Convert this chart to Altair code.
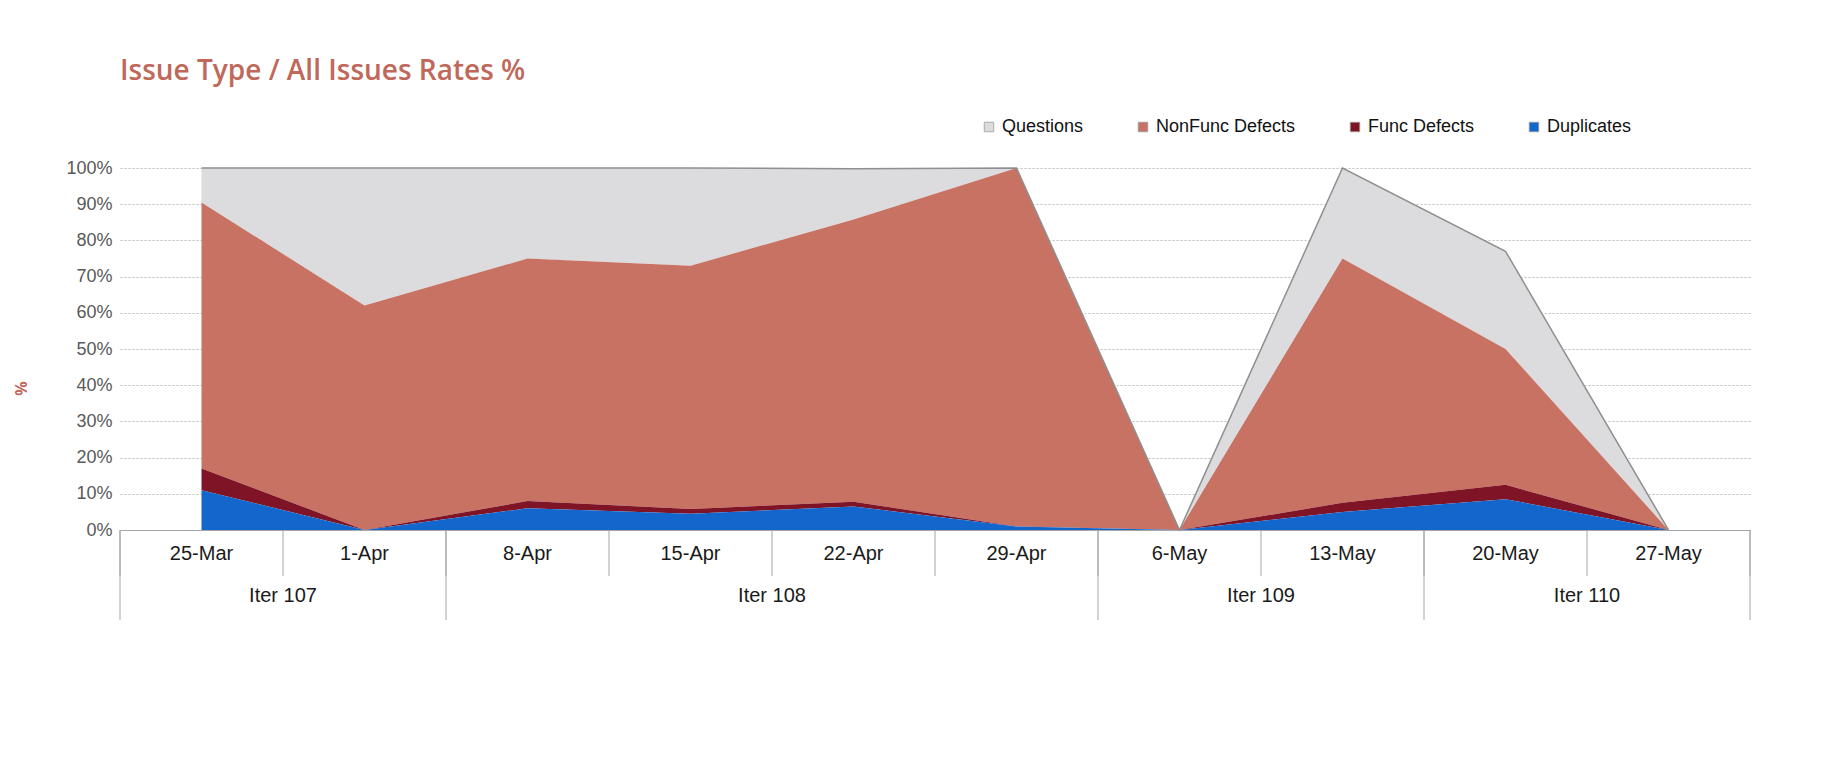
import altair as alt
import pandas as pd

# ---- data ----
dates = ["25-Mar", "1-Apr", "8-Apr", "15-Apr", "22-Apr", "29-Apr",
         "6-May", "13-May", "20-May", "27-May"]
iterations = ["Iter 107", "Iter 107", "Iter 108", "Iter 108", "Iter 108",
              "Iter 108", "Iter 109", "Iter 109", "Iter 110", "Iter 110"]
duplicates = [11, 0, 6, 4.5, 6.5, 1, 0, 5, 8.5, 0]
func_defects = [6, 0, 2, 1.3, 1.3, 0, 0, 2.5, 4, 0]
nonfunc_defects = [73.5, 62, 67, 67.2, 78, 99, 0, 67.5, 37.5, 0]
questions = [9.5, 38, 25, 27, 14, 0, 0, 25, 27, 0]

series_names = ["Questions", "NonFunc Defects", "Func Defects", "Duplicates"]
series_colors = ["#DCDCDE", "#C87263", "#7E1426", "#1366CC"]
y_ticks = [0, 10, 20, 30, 40, 50, 60, 70, 80, 90, 100]

# ---- tables built from the arrays ----
series_values = {
    "Questions": questions,
    "NonFunc Defects": nonfunc_defects,
    "Func Defects": func_defects,
    "Duplicates": duplicates,
}
stack_rank = {"Duplicates": 0, "Func Defects": 1, "NonFunc Defects": 2, "Questions": 3}
rows = []
for s, vals in series_values.items():
    for i, v in enumerate(vals):
        rows.append({"pos": i + 0.5, "date": dates[i], "series": s,
                     "value": v, "rank": stack_rank[s]})
df = pd.DataFrame(rows)

totals = pd.DataFrame({
    "pos": [i + 0.5 for i in range(len(dates))],
    "total": [a + b + c + d for a, b, c, d in zip(duplicates, func_defects, nonfunc_defects, questions)],
})

labels_df = pd.DataFrame({"pos": [i + 0.5 for i in range(len(dates))], "date": dates})
edges_df = pd.DataFrame({"pos": list(range(len(dates) + 1))})

groups = []
start = 0
for i in range(1, len(iterations) + 1):
    if i == len(iterations) or iterations[i] != iterations[start]:
        groups.append({"name": iterations[start], "start": start, "end": i})
        start = i
group_edges = sorted({g["start"] for g in groups} | {g["end"] for g in groups})
group_edges_df = pd.DataFrame({"pos": group_edges})
group_labels_df = pd.DataFrame({"pos": [(g["start"] + g["end"]) / 2 for g in groups],
                                "name": [g["name"] for g in groups]})

W, H = 1630, 362
RED = "#C0685A"
FONT = "Liberation Sans Narrow, Liberation Sans, Arial, sans-serif"

xscale = alt.Scale(domain=[0, len(dates)], nice=False, zero=False)
yscale = alt.Scale(domain=[0, 100], nice=False)
xaxis = alt.Axis(labels=False, ticks=False, grid=False, domain=True,
                 domainColor="#A6A6A6", domainWidth=1)
yaxis = alt.Axis(values=y_ticks, labelExpr="datum.value + '%'", labelOverlap=False,
                 labelFont=FONT, labelFontSize=18, labelColor="#595959",
                 labelPadding=8, ticks=False, domain=False,
                 grid=True, gridColor="#BDBDBD", gridDash=[2, 2], gridWidth=1,
                 titleColor=RED, titleFontSize=16, titleFont="Noto Sans",
                 titleFontWeight="bold", titlePadding=36, titleY=220)

area = alt.Chart(df).mark_area(interpolate="linear").encode(
    x=alt.X("pos:Q", scale=xscale, title=None, axis=xaxis),
    y=alt.Y("value:Q", stack="zero", scale=yscale, title="%", axis=yaxis),
    color=alt.Color("series:N", scale=alt.Scale(domain=series_names, range=series_colors),
                    legend=alt.Legend(title=None, orient="none", legendX=860, legendY=-50,
                                      direction="horizontal", symbolType="square",
                                      symbolSize=90, symbolStrokeColor="#9A9A9A",
                                      symbolStrokeWidth=0.8, labelFont="Liberation Sans",
                                      labelFontSize=18, labelColor="#111111",
                                      columnPadding=50, labelOffset=4)),
    order=alt.Order("rank:Q", sort="ascending"),
)

outline = alt.Chart(totals).mark_line(color="#8F8F8F", strokeWidth=1.5).encode(
    x=alt.X("pos:Q", scale=xscale, title=None, axis=xaxis),
    y=alt.Y("total:Q", scale=yscale, title="%", axis=yaxis),
)

date_seps = alt.Chart(edges_df).mark_rule(color="#A6A6A6", strokeWidth=1).encode(
    x=alt.X("pos:Q", scale=xscale, title=None, axis=xaxis),
    y=alt.value(H), y2=alt.value(H + 46),
)

group_seps = alt.Chart(group_edges_df).mark_rule(color="#A6A6A6", strokeWidth=1).encode(
    x=alt.X("pos:Q", scale=xscale, title=None, axis=xaxis),
    y=alt.value(H), y2=alt.value(H + 90),
)

date_text = alt.Chart(labels_df).mark_text(
    font=FONT, fontSize=20, color="#1A1A1A", baseline="middle", align="center"
).encode(
    x=alt.X("pos:Q", scale=xscale, title=None, axis=xaxis),
    y=alt.value(H + 24),
    text="date:N",
)

group_text = alt.Chart(group_labels_df).mark_text(
    font=FONT, fontSize=20, color="#1A1A1A", baseline="middle", align="center"
).encode(
    x=alt.X("pos:Q", scale=xscale, title=None, axis=xaxis),
    y=alt.value(H + 66),
    text="name:N",
)

chart = alt.layer(area, outline, date_seps, group_seps, date_text, group_text).properties(
    width=W, height=H,
    title=alt.TitleParams("Issue Type / All Issues Rates %", anchor="start", frame="group",
                          offset=32, color=RED, font="Open Sans", fontSize=28,
                          fontWeight=600),
    autosize=alt.AutoSizeParams(type="none"),
    padding={"left": 112, "top": 160, "right": 80, "bottom": 110},
    background="white",
).configure_view(stroke=None)

chart.save("out.html", embed_options={"renderer": "svg", "actions": False})
